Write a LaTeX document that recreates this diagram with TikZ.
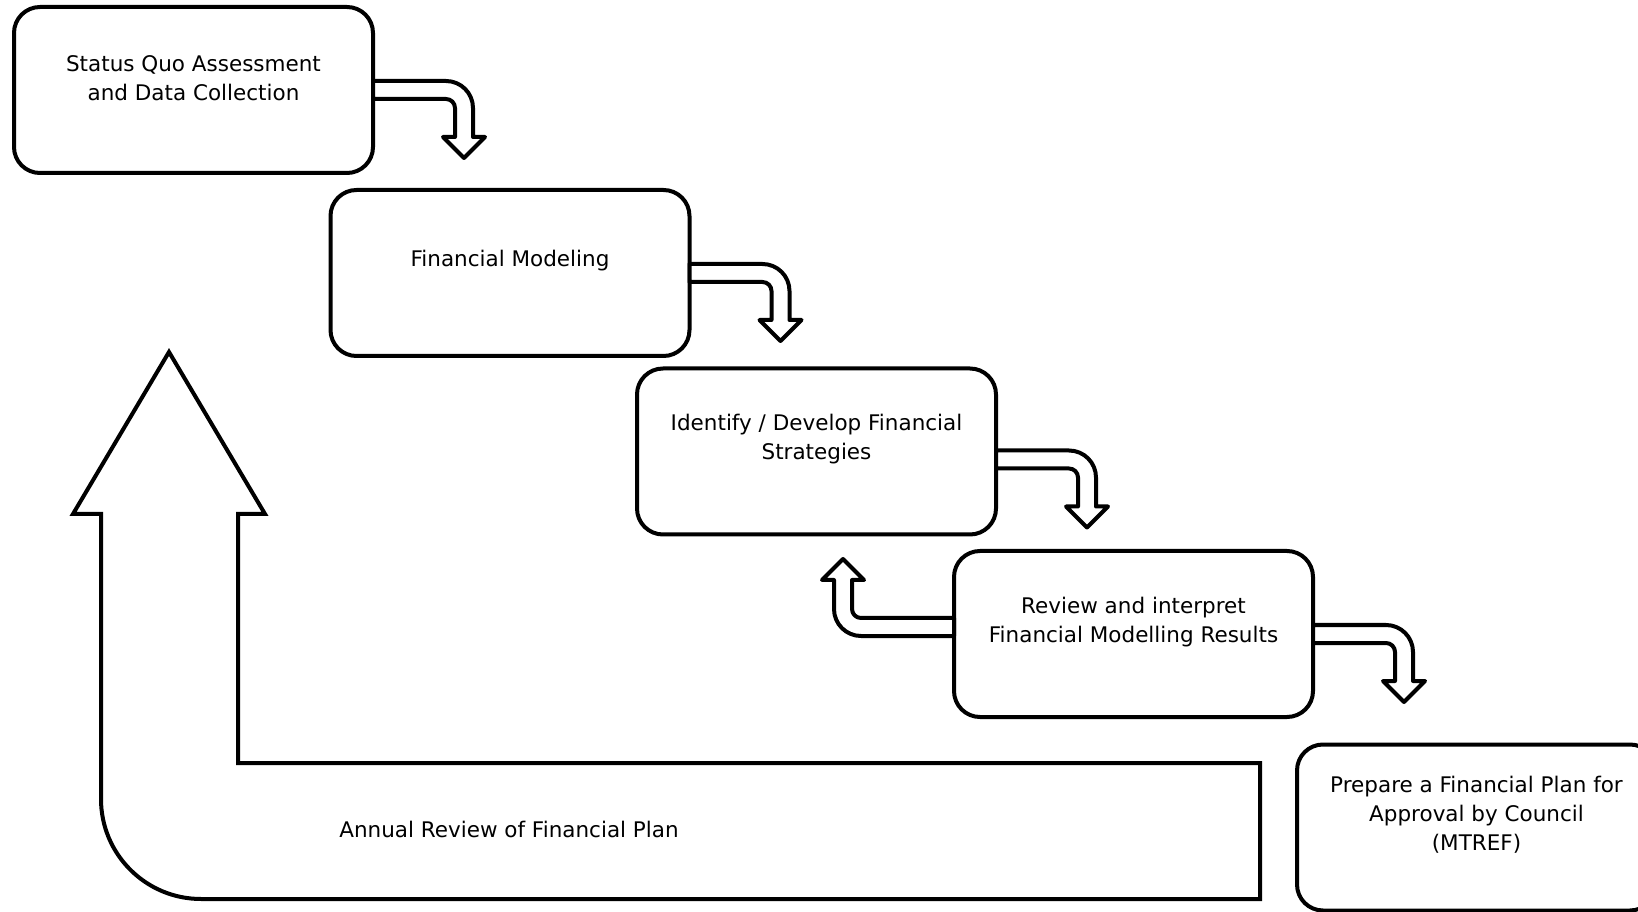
\documentclass[tikz,border=0pt]{standalone}
\usepackage{fontspec}
\setmainfont{DejaVu Sans}

\tikzset{
  stepbox/.style={draw, line width=4pt, rounded corners=26pt, minimum width=359pt,
    minimum height=166pt, inner sep=0pt, outer sep=0pt},
  steptext/.style={align=center, font=\fontsize{21.5}{29}\selectfont, inner sep=0pt},
  bentarrow/.style={draw, line width=4pt, fill=white, line join=round},
}

\begin{document}
\begin{tikzpicture}[x=1pt,y=1pt]
\useasboundingbox (0,0) rectangle (1638,911);
\clip (0,0) rectangle (1638,911);

% annual review arrow
\draw[bentarrow, line join=miter] (1260,148) -- (238,148) -- (238,397) -- (265,397) -- (169,559)
   -- (73,397) -- (101,397) -- (101,112) arc[start angle=180, end angle=270, radius=100]
   -- (1260,12) -- cycle;
\node[steptext] (Annual) at (509,82) {Annual Review of Financial Plan};

      \node (Box1) at (193.5,821) [stepbox]{};
       \node (Box2) at (510,638) [stepbox]{};
        \node (Box3) at (816.5,459.5) [stepbox]{};
         \node (Box4) at (1133.5,277) [stepbox]{};
          \node (Box5) at (1476.5,83.5) [stepbox]{};

\node[steptext] (Txt1) at ([yshift=-71pt]Box1.north) {Status Quo Assessment\\and Data Collection};
\node[steptext] (Txt2) at ([yshift=-71pt]Box2.north) {Financial Modeling};
\node[steptext] (Txt3) at ([yshift=-71pt]Box3.north) {Identify / Develop Financial\\Strategies};
\node[steptext] (Txt4) at ([yshift=-71pt]Box4.north) {Review and interpret\\Financial Modelling Results};
\node[steptext] (Txt5) at ([yshift=-70pt]Box5.north) {Prepare a Financial Plan for\\Approval by Council\\(MTREF)};

% down arrows
\foreach \b/\s in {Box1/0,Box2/0,Box3/-8,Box4/0}
  \draw[bentarrow] ([yshift=\s pt]\b.east) ++(0,9) -- ++(73,0) arc[start angle=90, end angle=0, radius=27]
     -- ++(0,-29) -- ++(12,0) -- ++(-21,-21) -- ++(-21,21) -- ++(12,0) -- ++(0,29)
     arc[start angle=0, end angle=90, radius=9] -- ++(-73,0) -- cycle;

% back arrow
\draw[bentarrow] ([yshift=7pt]Box4.west) ++(0,-9) -- ++(-93,0) arc[start angle=270, end angle=180, radius=27]
   -- ++(0,29) -- ++(-12,0) -- ++(21,21) -- ++(21,-21) -- ++(-12,0) -- ++(0,-29)
   arc[start angle=180, end angle=270, radius=9] -- ++(93,0) -- cycle;
\end{tikzpicture}
\end{document}
